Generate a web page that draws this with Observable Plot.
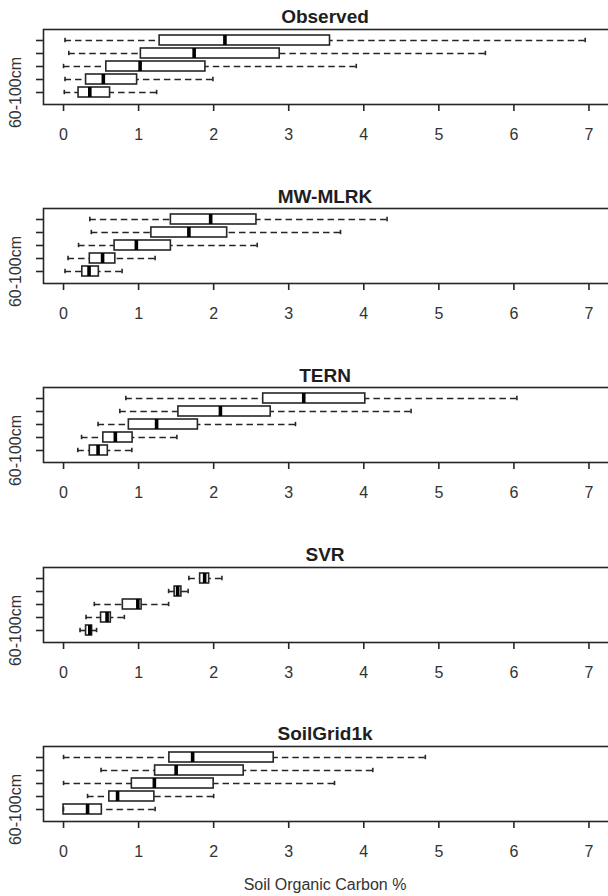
<!DOCTYPE html>
<html><head><meta charset="utf-8">
<script src="https://cdn.jsdelivr.net/npm/d3@7"></script>
<script src="https://cdn.jsdelivr.net/npm/@observablehq/plot@0.6"></script>
<style>
html,body{margin:0;padding:0;background:#fff;overflow:hidden;}
#chart{position:relative;width:608px;height:896px;overflow:hidden;background:#fff;font-family:"Liberation Sans",Arial,Helvetica,sans-serif;}
.ptitle{position:absolute;left:43px;width:564px;text-align:center;font-weight:bold;font-size:19px;line-height:19px;color:#1e1e1e;}
.xtitle{position:absolute;left:43px;width:564px;text-align:center;font-size:16px;line-height:16px;color:#333;}
#chart svg{position:absolute;left:0;max-width:none;}
</style></head><body><div id="chart"></div>
<script>
// depth layers, top row to bottom row
const depths = ["0-5cm", "5-15cm", "15-30cm", "30-60cm", "60-100cm"];
const shownDepthLabel = ["60-100cm"];
const models = ["Observed", "MW-MLRK", "TERN", "SVR", "SoilGrid1k"];
const xTicks = [0, 1, 2, 3, 4, 5, 6, 7];
const xTitle = "Soil Organic Carbon %";

// five-number summaries per depth: [whisker low, Q1, median, Q3, whisker high]
const observedStats = [
  [0.02, 1.28, 2.15, 3.55, 6.95],
  [0.07, 1.03, 1.74, 2.88, 5.62],
  [0.00, 0.57, 1.02, 1.89, 3.90],
  [0.02, 0.30, 0.53, 0.98, 1.99],
  [0.01, 0.20, 0.35, 0.62, 1.24]
];
const mwmlrkStats = [
  [0.35, 1.43, 1.96, 2.57, 4.31],
  [0.37, 1.17, 1.67, 2.18, 3.69],
  [0.20, 0.68, 0.97, 1.43, 2.58],
  [0.06, 0.35, 0.52, 0.69, 1.22],
  [0.02, 0.25, 0.34, 0.47, 0.78]
];
const ternStats = [
  [0.83, 2.66, 3.20, 4.02, 6.04],
  [0.75, 1.53, 2.09, 2.76, 4.63],
  [0.46, 0.87, 1.24, 1.79, 3.09],
  [0.24, 0.53, 0.69, 0.92, 1.51],
  [0.19, 0.35, 0.46, 0.59, 0.91]
];
const svrStats = [
  [1.67, 1.82, 1.88, 1.94, 2.11],
  [1.40, 1.48, 1.52, 1.57, 1.66],
  [0.41, 0.79, 0.99, 1.04, 1.40],
  [0.30, 0.50, 0.58, 0.63, 0.81],
  [0.22, 0.30, 0.35, 0.38, 0.44]
];
const soilgridStats = [
  [0.00, 1.41, 1.72, 2.80, 4.82],
  [0.50, 1.22, 1.50, 2.40, 4.12],
  [0.00, 0.91, 1.21, 2.00, 3.61],
  [0.32, 0.61, 0.72, 1.21, 2.00],
  [0.00, 0.00, 0.32, 0.51, 1.22]
];
const allStats = [observedStats, mwmlrkStats, ternStats, svrStats, soilgridStats];

const chart = document.getElementById("chart");
const panelStep = 179.2;
const ink = "#262626";
const lw = 1.6;

models.forEach((name, i) => {
  const top = i * panelStep;
  const rows = depths.map((d, j) => ({
    depth: d,
    lo: allStats[i][j][0], q1: allStats[i][j][1], med: allStats[i][j][2],
    q3: allStats[i][j][3], hi: allStats[i][j][4]
  }));

  const t = document.createElement("div");
  t.className = "ptitle";
  t.style.top = (top + 7.4) + "px";
  t.textContent = name;
  chart.appendChild(t);

  const svg = Plot.plot({
    width: 626,
    height: 151,
    marginTop: 1,
    marginBottom: 75,
    marginLeft: 43,
    marginRight: 0,
    style: {fontFamily: '"Liberation Sans", Arial, Helvetica, sans-serif', fontSize: "16px", color: "#333", background: "transparent", maxWidth: "none", overflow: "visible"},
    x: {domain: [-0.267, 7.5], label: null},
    y: {type: "band", domain: depths, paddingInner: 0.2, paddingOuter: 0.3, label: null},
    marks: [
      Plot.frame({stroke: ink, strokeWidth: lw}),
      Plot.axisX(xTicks, {tickSize: 7, tickPadding: 17, stroke: ink, strokeWidth: lw, fill: "#333", label: null, fontSize: 16}),
      Plot.axisY({tickSize: 7, tickFormat: () => "", stroke: ink, strokeWidth: lw, label: null}),
      Plot.text(shownDepthLabel, {y: d => d, text: d => d, frameAnchor: "left", dx: -28, rotate: -90, textAnchor: "middle", fontSize: 16, fill: "#333"}),
      Plot.ruleY(rows, {y: "depth", x1: "lo", x2: "q1", stroke: ink, strokeWidth: lw, strokeDasharray: "6.5,4"}),
      Plot.ruleY(rows, {y: "depth", x1: "hi", x2: "q3", stroke: ink, strokeWidth: lw, strokeDasharray: "6.5,4"}),
      Plot.barX(rows, {y: "depth", x1: "q1", x2: "q3", fill: "white", stroke: ink, strokeWidth: lw}),
      Plot.tickX(rows, {y: "depth", x: "med", stroke: "#000", strokeWidth: 3.6}),
      Plot.tickX(rows, {y: "depth", x: "lo", stroke: ink, strokeWidth: lw, insetTop: 2.8, insetBottom: 2.8}),
      Plot.tickX(rows, {y: "depth", x: "hi", stroke: ink, strokeWidth: lw, insetTop: 2.8, insetBottom: 2.8})
    ]
  });
  svg.style.top = (top + 28) + "px";
  svg.style.maxWidth = "none";
  chart.appendChild(svg);
});

const xt = document.createElement("div");
xt.className = "xtitle";
xt.style.top = "877px";
xt.textContent = xTitle;
chart.appendChild(xt);
</script></body></html>
